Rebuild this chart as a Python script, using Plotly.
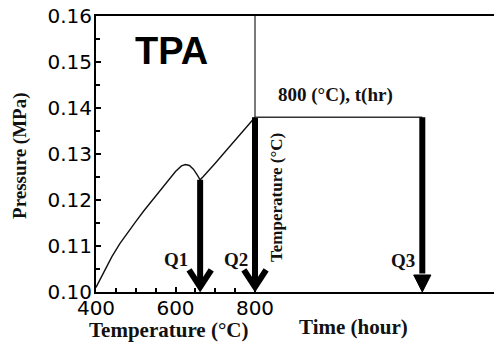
import plotly.graph_objects as go

# Heating run: chamber pressure vs temperature
temp_c = [400, 420, 440, 460, 480, 500, 520, 540, 560, 580, 600, 615, 625,
          635, 645, 655, 662, 670, 680, 700, 720, 740, 760, 780, 800]
pressure_mpa = [0.1010, 0.1045, 0.1077, 0.1105, 0.1130, 0.1153, 0.1176, 0.1198,
                0.1220, 0.1242, 0.1262, 0.1274, 0.1277, 0.1275, 0.1267, 0.1254,
                0.1244, 0.1251, 0.1260, 0.1280, 0.1300, 0.1320, 0.1340, 0.1360,
                0.1380]

# Quench points (Q1, Q2 on the temperature scale, Q3 on the hold-time scale)
quench_labels = ["Q1", "Q2", "Q3"]
quench_temp = [662, 800]
quench_temp_p = [0.1244, 0.1380]
hold_time_h = [0.0, 7.0]          # isothermal hold at 800 °C
hold_p = [0.1380, 0.1380]

temp_ticks = [400, 600, 800]
temp_minor = [450, 500, 550, 650, 700, 750]
p_ticks = [0.10, 0.11, 0.12, 0.13, 0.14, 0.15, 0.16]
p_ticktext = ["0.10", "0.11", "0.12", "0.13", "0.14", "0.15", "0.16"]

T_MIN, T_MAX = 400, 800
P_MIN, P_MAX = 0.10, 0.16
HOLD_SPAN = 10.0
left_frac = 159 / 398            # share of the width used by the heating panel
t_far = T_MIN + (T_MAX - T_MIN) / left_frac
h_min = -HOLD_SPAN * left_frac / (1 - left_frac)

INK = "#111111"
SERIF = "Liberation Serif"

fig = go.Figure()

fig.add_trace(go.Scatter(x=temp_c, y=pressure_mpa, mode="lines",
                         line=dict(color=INK, width=1.4), showlegend=False))

fig.add_trace(go.Scatter(x=hold_time_h, y=hold_p, xaxis="x2", mode="lines",
                         line=dict(color="#333333", width=1.5), showlegend=False))

# arrows with open chevron heads for Q1 and Q2
head_dx = 28
vertex_p = P_MIN + 0.0011
arm_p = P_MIN + 0.0048
for t, p in zip(quench_temp, quench_temp_p):
    fig.add_trace(go.Scatter(x=[t, t], y=[p, vertex_p + 0.001], mode="lines",
                             line=dict(color="black", width=6), showlegend=False))
    fig.add_trace(go.Scatter(x=[t - head_dx, t, t + head_dx],
                             y=[arm_p, vertex_p, arm_p], mode="lines",
                             line=dict(color="black", width=6), showlegend=False))

# Q3 arrow with a solid head
t3 = hold_time_h[1]
tri_dx = 0.36
tri_top = P_MIN + 0.0037
fig.add_trace(go.Scatter(x=[t3, t3], y=[hold_p[1], tri_top + 0.0003], xaxis="x2",
                         mode="lines", line=dict(color="black", width=6),
                         showlegend=False))
fig.add_trace(go.Scatter(x=[t3 - tri_dx, t3 + tri_dx, t3, t3 - tri_dx],
                         y=[tri_top, tri_top, P_MIN, tri_top], xaxis="x2",
                         mode="lines", fill="toself", fillcolor="black",
                         line=dict(color="black", width=1), showlegend=False))

# divider between the heating and the holding panels
fig.add_shape(type="line", xref="x", yref="y", x0=T_MAX, x1=T_MAX,
              y0=quench_temp_p[1], y1=P_MAX, line=dict(color="#222222", width=1.2))

tick_font = dict(family="DejaVu Sans", size=20, color="black")
fig.update_layout(
    width=494, height=344,
    margin=dict(l=96, r=0, t=16, b=52),
    paper_bgcolor="white", plot_bgcolor="white",
    xaxis=dict(range=[T_MIN, t_far], tickmode="array", tickvals=temp_ticks,
               ticks="inside", ticklen=5, tickwidth=1.5, tickcolor="black",
               minor=dict(tickmode="array", tickvals=temp_minor, ticks="inside",
                          ticklen=4, tickwidth=1.5, tickcolor="black"),
               showline=True, linewidth=2, linecolor="black", mirror=True,
               showgrid=False, zeroline=False, tickfont=tick_font,
               ticklabelstandoff=-3),
    xaxis2=dict(range=[h_min, HOLD_SPAN], overlaying="x", anchor="y",
                showline=False, showticklabels=False, ticks="",
                showgrid=False, zeroline=False),
    yaxis=dict(range=[P_MIN, P_MAX], tickmode="array", tickvals=p_ticks,
               ticktext=p_ticktext, ticks="inside", ticklen=5, tickwidth=1.5,
               tickcolor="black",
               minor=dict(dtick=0.005, tick0=0.1, ticks="inside", ticklen=4,
                          tickwidth=1.5, tickcolor="black"),
               showline=True, linewidth=2, linecolor="black",
               showgrid=False, zeroline=False, tickfont=tick_font,
               ticklabelstandoff=-2),
)


def bold_serif(size):
    return dict(family=SERIF, size=size, color=INK)


def label(text, x, y, font, xref="paper", yref="paper", **kw):
    return dict(text=text, x=x, y=y, xref=xref, yref=yref, font=font,
                xanchor="center", yanchor="middle", showarrow=False, **kw)


annotations = [
    label("<b>TPA</b>", 0.19, 0.875,
          dict(family="Liberation Sans", size=38, color="black")),
    label("<b>Pressure (MPa)</b>", -0.191, 0.493, bold_serif(19), textangle=-90),
    label("<b>Temperature (°C)</b>", 0.181, -0.138, bold_serif(21)),
    label("<b>Time (hour)</b>", 0.648, -0.127, bold_serif(21)),
    label("<b>Temperature (°C)</b>", 0.452, 0.344, bold_serif(17), textangle=-90),
    label("<b>800 (°C), t(hr)</b>", 3.35, 0.1428, bold_serif(19),
          xref="x2", yref="y"),
    label("<b>%s</b>" % quench_labels[0], quench_temp[0], 0.1070, bold_serif(19),
          xref="x", yref="y", xshift=-24),
    label("<b>%s</b>" % quench_labels[1], quench_temp[1], 0.1070, bold_serif(19),
          xref="x", yref="y", xshift=-19),
    label("<b>%s</b>" % quench_labels[2], t3, 0.1068, bold_serif(19),
          xref="x2", yref="y", xshift=-19),
]
fig.update_layout(annotations=annotations)

fig.write_html("out.html")
